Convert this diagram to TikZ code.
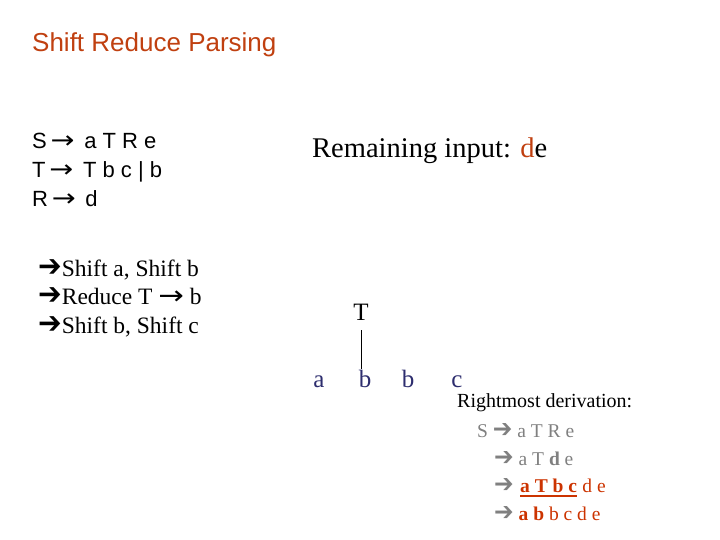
\documentclass[tikz,border=0pt]{standalone}
\usepackage{fontspec}
\setmainfont{Liberation Serif}
\setsansfont{Liberation Sans}
\newfontfamily\arrowfont{DejaVu Sans}
\definecolor{titlered}{RGB}{192,64,16}
\definecolor{derivred}{RGB}{204,51,0}
\definecolor{leafblue}{RGB}{45,45,110}
\definecolor{derivgray}{RGB}{128,128,128}
\newcommand{\thinarr}{\scalebox{1.3}[1.1]{\arrowfont\char"2192}}
\newcommand{\fatarr}{\scalebox{1.2}[1.3]{\arrowfont\bfseries\char"2794}}

\begin{document}
\begin{tikzpicture}[x=1pt, y=-1pt,
    every node/.style={inner sep=0pt, anchor=base west},
    titletext/.style={font=\sffamily\fontsize{26}{30}\selectfont, text=titlered},
    rule/.style={font=\sffamily\fontsize{22}{26}\selectfont},
    remain/.style={font=\fontsize{28.5}{34}\selectfont},
    action/.style={font=\fontsize{23.5}{28}\selectfont},
    leaf/.style={font=\fontsize{25}{30}\selectfont, anchor=base, text=leafblue},
    derivhead/.style={font=\fontsize{20}{24}\selectfont},
    deriv/.style={font=\fontsize{19.5}{24}\selectfont, text=derivgray},
    derivhot/.style={deriv, text=derivred}]
    \useasboundingbox (0,0) rectangle (720,540);

    % title
    \node[titletext] (title) at (32,52) {Shift Reduce Parsing};

    % grammar
    \node[rule] (r1) at (32,149) {S\,\thinarr\, a T R e};
    \node[rule] (r2) at (32,178) {T\,\thinarr\, T b c | b};
    \node[rule] (r3) at (32,207) {R\,\thinarr\, d};

    \node[remain] (rem) at (312,158) {Remaining input: \textcolor{titlered}{d}e};

    % parser actions so far
    \node[action] (s1) at (38,276) {\fatarr Shift a, Shift b};
    \node[action] (s2) at (38,304) {\fatarr Reduce T \thinarr\ b};
    \node[action] (s3) at (38,333) {\fatarr Shift b, Shift c};

    % partial tree
    \node[leaf, text=black] (T) at (361,320) {T};
    \node[leaf] (a) at (319,387) {a};
    \node[leaf] (b1) at (365,387) {b};
    \node[leaf] (b2) at (408,387) {b};
    \node[leaf] (c) at (457,387) {c};
    \draw[shorten <=10pt] (T.south) -- (T.south |- b1.north);

    % derivation
    \node[derivhead] (rm) at (457,407) {Rightmost derivation:};
    \node[deriv] (d1) at (477,437) {S \fatarr\ a T R e};
    \node[deriv] (d2) at (494,465) {\fatarr\ a T \textbf{d} e};
    \node[deriv] (d3) at (494,492) {\fatarr};
    \node[derivhot] (hand) at (520,492) {\textbf{a T b c}};
    \node[derivhot] (d3b) at ([xshift=5pt]hand.base east) {d e};
    \draw[derivred, line width=2pt] ([yshift=-4pt]hand.base west) -- ([yshift=-4pt]hand.base east);
    \node[deriv] (d4) at (494,520) {\fatarr\ \textcolor{derivred}{\textbf{a b} b c d e}};
\end{tikzpicture}
\end{document}
